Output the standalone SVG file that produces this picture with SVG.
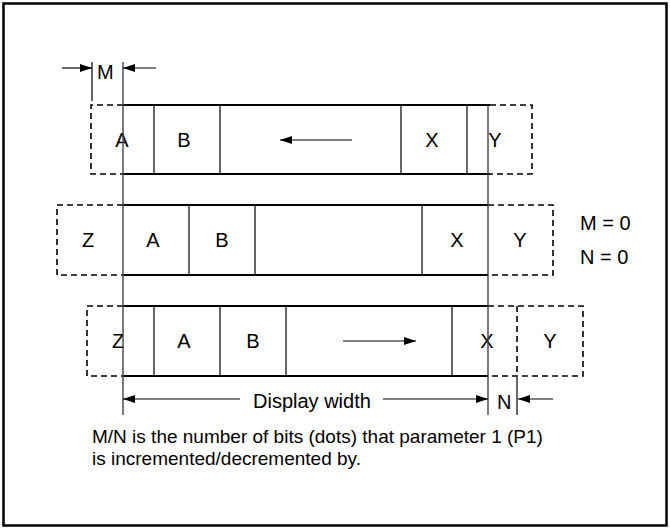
<svg xmlns="http://www.w3.org/2000/svg" width="670" height="529" viewBox="0 0 670 529">
<defs>
<marker id="ah" viewBox="0 0 12 8" refX="12" refY="4" markerWidth="12" markerHeight="8" markerUnits="userSpaceOnUse" orient="auto">
<path d="M0,0 L12,4 L0,8 Z" fill="#000"/>
</marker>
<style>
text{font-family:"Liberation Sans",Arial,sans-serif;font-size:20px;fill:#000}
.c{text-anchor:middle}
.note{font-size:19px}
.edge{stroke:#000;stroke-width:2;fill:none}
.div{stroke:#000;stroke-width:1.2;fill:none}
.dash{stroke:#000;stroke-width:1.6;fill:none;stroke-dasharray:6,4}
.ref{stroke:#444;stroke-width:1.4;fill:none}
.arr{stroke:#000;stroke-width:1.2;fill:none;marker-end:url(#ah)}
</style>
</defs>
<rect x="3.5" y="3.5" width="663" height="522" fill="#fff" stroke="#000" stroke-width="2.5"/>

<g id="row1">
<line class="edge" x1="123" y1="105" x2="490" y2="105"/>
<line class="edge" x1="123" y1="174" x2="490" y2="174"/>
<path class="dash" d="M123,105 H91 V174 H123"/>
<path class="dash" d="M490,105 H532 V174 H490"/>
<line class="div" x1="154" y1="105" x2="154" y2="174"/>
<line class="div" x1="220" y1="105" x2="220" y2="174"/>
<line class="div" x1="401" y1="105" x2="401" y2="174"/>
<line class="div" x1="467" y1="105" x2="467" y2="174"/>
<text class="c" x="122" y="147">A</text>
<text class="c" x="184" y="147">B</text>
<text class="c" x="432" y="147">X</text>
<text class="c" x="495" y="147">Y</text>
</g>

<g id="row2">
<line class="edge" x1="123" y1="205" x2="488" y2="205"/>
<line class="edge" x1="123" y1="275" x2="488" y2="275"/>
<path class="dash" d="M123,205 H57 V275 H123"/>
<path class="dash" d="M488,205 H553 V275 H488"/>
<line class="div" x1="189" y1="205" x2="189" y2="275"/>
<line class="div" x1="255" y1="205" x2="255" y2="275"/>
<line class="div" x1="422" y1="205" x2="422" y2="275"/>
<text class="c" x="88" y="247">Z</text>
<text class="c" x="153" y="247">A</text>
<text class="c" x="222" y="247">B</text>
<text class="c" x="457" y="247">X</text>
<text class="c" x="520" y="247">Y</text>
</g>

<g id="row3">
<line class="edge" x1="123" y1="306" x2="488" y2="306"/>
<line class="edge" x1="123" y1="376" x2="488" y2="376"/>
<path class="dash" d="M123,306 H87 V376 H123"/>
<path class="dash" d="M488,306 H583 V376 H488"/>
<line class="dash" x1="517" y1="306" x2="517" y2="376"/>
<line class="div" x1="154" y1="306" x2="154" y2="376"/>
<line class="div" x1="220" y1="306" x2="220" y2="376"/>
<line class="div" x1="286" y1="306" x2="286" y2="376"/>
<line class="div" x1="452" y1="306" x2="452" y2="376"/>
<text class="c" x="118" y="348">Z</text>
<text class="c" x="184" y="348">A</text>
<text class="c" x="253" y="348">B</text>
<text class="c" x="487" y="348">X</text>
<text class="c" x="550" y="348">Y</text>
</g>

<g id="connectors">
<line class="ref" x1="123" y1="62" x2="123" y2="415"/>
<line class="ref" x1="488" y1="105" x2="488" y2="415"/>
<line class="div" x1="92" y1="62" x2="92" y2="101"/>
<line class="div" x1="517" y1="377" x2="517" y2="415"/>
<line class="arr" x1="62" y1="68" x2="92" y2="68"/>
<line class="arr" x1="156" y1="68" x2="123" y2="68"/>
<line class="arr" x1="352" y1="140" x2="280" y2="140"/>
<line class="arr" x1="343" y1="341" x2="416" y2="341"/>
<line class="arr" x1="240" y1="399" x2="123" y2="399"/>
<line class="arr" x1="383" y1="399" x2="488" y2="399"/>
<line class="arr" x1="553" y1="399" x2="518" y2="399"/>
</g>

<g id="labels">
<text x="97" y="79">M</text>
<text x="580" y="230">M = 0</text>
<text x="580" y="264">N = 0</text>
<text x="253" y="408">Display width</text>
<text x="497" y="409">N</text>
<text class="note" x="92" y="443">M/N is the number of bits (dots) that parameter 1 (P1)</text>
<text class="note" x="92" y="465">is incremented/decremented by.</text>
</g>
</svg>
